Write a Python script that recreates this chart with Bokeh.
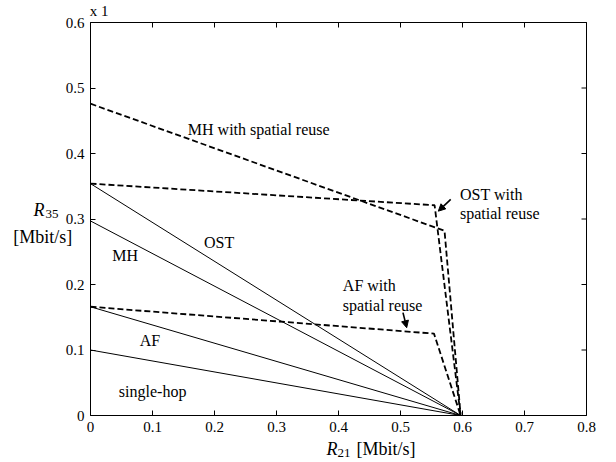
import math
from bokeh.plotting import figure
from bokeh.models import Range1d, Arrow, NormalHead, FixedTicker
from bokeh.core.properties import value
from bokeh.embed import file_html
from bokeh.resources import INLINE

# ---- data ----
x_ticks = [0, 0.1, 0.2, 0.3, 0.4, 0.5, 0.6, 0.7, 0.8]
y_ticks = [0, 0.1, 0.2, 0.3, 0.4, 0.5, 0.6]
x_tick_labels = ["0", "0.1", "0.2", "0.3", "0.4", "0.5", "0.6", "0.7", "0.8"]
y_tick_labels = ["0", "0.1", "0.2", "0.3", "0.4", "0.5", "0.6"]

# solid lines (no spatial reuse): straight from (0, r35_max) to (r21_max, 0)
r21_max = 0.597
ost_y0 = 0.354
mh_y0 = 0.297
af_y0 = 0.166
single_y0 = 0.100

# dashed lines (with spatial reuse)
mh_sr_x = [0.0, 0.571, 0.597]
mh_sr_y = [0.476, 0.282, 0.0]
ost_sr_x = [0.0, 0.555, 0.597]
ost_sr_y = [0.354, 0.321, 0.0]
af_sr_x = [0.0, 0.554, 0.597]
af_sr_y = [0.166, 0.125, 0.0]

# annotations
label_texts = ["MH with spatial reuse", "OST with", "spatial reuse", "OST", "MH",
               "AF with", "spatial reuse", "AF", "single-hop"]
label_x = [0.157, 0.596, 0.596, 0.183, 0.035, 0.407, 0.407, 0.0795, 0.0457]
label_y = [0.436, 0.338, 0.308, 0.264, 0.245, 0.198, 0.168, 0.114, 0.037]

arrow_ost = [0.581, 0.330, 0.561, 0.312]
arrow_af = [0.504, 0.157, 0.510, 0.134]

FONT = "Liberation Serif"

# canvas = frame; data range chosen so the axes box sits where the reference has it
p = figure(frame_width=608, frame_height=460, min_border=0,
           x_range=Range1d(-0.14516, 0.83548), y_range=Range1d(-0.0687, 0.63359),
           output_backend="svg", toolbar_location=None,
           background_fill_color="white", border_fill_color="white")
p.title.visible = False
p.grid.visible = False
p.outline_line_color = None

def style(ax, ticks, labels):
    ax.ticker = FixedTicker(ticks=ticks)
    ax.major_label_overrides = {t: l for t, l in zip(ticks, labels)}
    ax.bounds = (ticks[0], ticks[-1])
    ax.fixed_location = 0
    ax.major_tick_in = 5
    ax.major_tick_out = 0
    ax.minor_tick_line_color = None
    ax.axis_line_color = "black"
    ax.major_tick_line_color = "black"
    ax.major_label_text_font = FONT
    ax.major_label_text_color = "black"
    ax.major_label_standoff = 6
    ax.major_label_text_font_size = "15px"

style(p.xaxis[0], x_ticks, x_tick_labels)
style(p.yaxis[0], y_ticks, y_tick_labels)

# top and right border lines
p.line([x_ticks[0], x_ticks[-1]], [y_ticks[-1], y_ticks[-1]], line_color="black", line_width=1)
p.line([x_ticks[-1], x_ticks[-1]], [y_ticks[0], y_ticks[-1]], line_color="black", line_width=1)

# inward ticks on the top and right borders
p.ray(x=x_ticks, y=[y_ticks[-1]] * len(x_ticks), length=5, length_units="screen",
      angle=-math.pi / 2, line_color="black", line_width=1)
p.ray(x=[x_ticks[-1]] * len(y_ticks), y=y_ticks, length=5, length_units="screen",
      angle=math.pi, line_color="black", line_width=1)

# solid lines
for y0 in [ost_y0, mh_y0, af_y0, single_y0]:
    p.line([0, r21_max], [y0, 0], line_color="black", line_width=1)

# dashed lines
for xs, ys in [(mh_sr_x, mh_sr_y), (ost_sr_x, ost_sr_y), (af_sr_x, af_sr_y)]:
    p.line(xs, ys, line_color="black", line_width=1.8, line_dash="6 3")

p.text(x=label_x, y=label_y, text=label_texts, text_font=value(FONT),
       text_font_size="16px", text_baseline="middle", text_align="left", text_color="black")

for a in [arrow_ost, arrow_af]:
    p.add_layout(Arrow(end=NormalHead(size=7, fill_color="black", line_color="black"),
                       x_start=a[0], y_start=a[1], x_end=a[2], y_end=a[3],
                       line_color="black", line_width=1.6))

def lab(x, y, t, size, style_="normal"):
    p.text(x=[x], y=[y], text=[t], text_font=value(FONT), text_font_size=size,
           text_font_style=style_, text_baseline="middle", text_align="left",
           text_color="black")

# x-axis label: R21 [Mbit/s]
lab(0.3806, -0.0504, "R", "18px", "italic")
lab(0.3984, -0.0565, "21", "13px")
lab(0.429, -0.0504, "[Mbit/s]", "18px")
# y-axis label: R35 [Mbit/s]
lab(-0.0919, 0.313, "R", "18px", "italic")
lab(-0.0726, 0.3069, "35", "13px")
lab(-0.1247, 0.2722, "[Mbit/s]", "18px")
# exponent marker
lab(-0.0011, 0.6183, "x 1", "15px")

open("out.html", "w").write(file_html(p, INLINE))
